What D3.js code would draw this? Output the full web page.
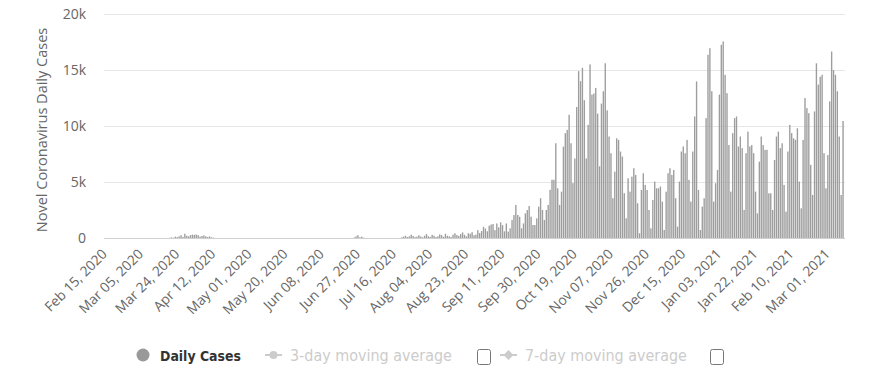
<!DOCTYPE html>
<html><head><meta charset="utf-8">
<script src="https://cdn.jsdelivr.net/npm/d3@7"></script>
<style>body{margin:0;background:#fff}svg{display:block}</style>
</head><body>
<svg id="c" width="870" height="379"></svg>
<script>
// ---- data ----
const startDate = "2020-02-15";
const tickLabels = ["Feb 15, 2020","Mar 05, 2020","Mar 24, 2020","Apr 12, 2020","May 01, 2020","May 20, 2020","Jun 08, 2020","Jun 27, 2020","Jul 16, 2020","Aug 04, 2020","Aug 23, 2020","Sep 11, 2020","Sep 30, 2020","Oct 19, 2020","Nov 07, 2020","Nov 26, 2020","Dec 15, 2020","Jan 03, 2021","Jan 22, 2021","Feb 10, 2021","Mar 01, 2021"];
const yTicks = [0, 5000, 10000, 15000, 20000];
const dailyCases = [
0,0,0,0,0,0,0,0,0,0,0,0,0,0,0,0,0,0,0,0,0,0,0,0,0,0,0,0,0,0,0,0,0,0,
20,50,30,120,80,150,250,100,380,200,150,260,300,280,310,250,120,180,230,150,90,140,60,30,
0,0,0,0,0,0,0,0,0,0,0,0,0,0,0,0,0,0,0,0,0,0,0,0,0,0,0,0,0,0,0,0,0,0,0,0,0,0,0,0,0,0,0,0,0,0,0,0,0,0,0,0,0,0,0,0,0,0,0,0,0,0,0,0,0,0,0,0,0,0,0,0,0,
40,150,250,60,120,30,
0,0,0,0,0,0,0,0,0,0,0,0,0,0,0,0,0,0,0,
60,120,200,90,150,300,180,80,120,250,140,60,200,350,160,100,280,200,90,150,
320,250,110,380,200,150,90,300,420,260,180,350,500,280,150,420,380,520,250,300,
700,450,620,1000,850,600,1100,1200,1250,700,1300,950,1400,1150,600,
1300,570,860,1600,2050,2950,2050,1900,860,1300,2200,2500,2860,1900,1160,1160,1750,2800,3550,2500,1600,2500,2950,4300,5200,5200,8460,4440,2950,4140,8160,9360,9650,11000,8460,4900,
7100,11700,14900,14000,15200,12300,7100,10100,15500,12800,12900,13400,11100,6400,12000,13100,15600,11400,9060,7570,3550,5930,8900,8760,7720,7270,4000,1760,5330,4140,5480,6230,5630,3100,
420,4290,5780,4740,4290,2500,860,3400,5040,4440,4440,4590,3250,715,4140,5780,6230,5630,6080,3550,1010,5040,7720,8170,7570,8760,5190,3250,7720,10850,13980,4290,715,2800,
3550,10700,16360,16950,13100,3250,4890,6080,12800,17250,17550,14570,12930,8300,4140,9360,10700,10850,8170,9060,8020,2500,7570,9500,8170,8300,7570,4140,2200,6820,9060,8300,7870,7870,
3990,3990,2500,6970,9060,9500,8020,8460,4740,2350,7720,10100,9360,8900,8760,9800,5040,2650,8760,12490,11600,11150,6530,3840,11300,15600,13700,14400,14570,7570,4440,7400,12200,16650,15000,14570,13100,9060,3840,10450
];
const legendItems = ["Daily Cases","3-day moving average","7-day moving average"];
const yTitle = "Novel Coronavirus Daily Cases";

// ---- chart ----
const svg = d3.select("#c");
const FONT = "'Open Sans', 'DejaVu Sans', sans-serif";
const NARROW = "'Liberation Sans Narrow', 'DejaVu Sans Condensed', sans-serif";
const pL = 104, pR = 844, pT = 14, pB = 238;
const idx = d3.range(dailyCases.length);
const x = d3.scaleBand().domain(idx).range([pL, pR]).paddingInner(0.28).paddingOuter(0.14);
const y = d3.scaleLinear().domain([0, 20000]).range([pB, pT]);

// gridlines
const yAxis = d3.axisLeft(y).tickValues(yTicks).tickSize(-(pR + 1 - pL)).tickFormat(d => d === 0 ? "0" : (d/1000) + "k");
const gy = svg.append("g").attr("transform", `translate(${pL},0)`).call(yAxis);
gy.select(".domain").remove();
gy.selectAll(".tick line").attr("stroke", "#e6e6e6").attr("stroke-width", 1);
gy.selectAll(".tick text").attr("x", -18).attr("fill", "#666").style("font-family", FONT).style("font-size", "14px");

// bars
svg.append("g").selectAll("rect").data(dailyCases).join("rect")
  .attr("x", (d, i) => x(i)).attr("width", x.bandwidth())
  .attr("y", d => y(d)).attr("height", d => pB - y(d))
  .attr("fill", "#9d9d9d");

// x axis
const tickIdx = tickLabels.map((t, k) => k * 19);
const xAxis = d3.axisBottom(x).tickValues(tickIdx).tickSize(0).tickFormat((d, k) => tickLabels[k]);
const gx = svg.append("g").attr("transform", `translate(0,${pB})`).call(xAxis);
gx.select(".domain").attr("stroke", "#d0d0d0").attr("d", `M${pL},0.5H${pR + 1}`);
gx.selectAll(".tick text")
  .attr("y", 0).attr("dy", 0).attr("x", 0)
  .attr("text-anchor", "end")
  .attr("transform", "translate(3,17) rotate(-45)")
  .attr("fill", "#666").style("font-family", FONT).style("font-size", "13.8px");

// y title
svg.append("text").attr("transform", `translate(47,${(pT + pB) / 2 + 4}) rotate(-90)`)
  .attr("text-anchor", "middle").attr("fill", "#666")
  .style("font-family", FONT).style("font-size", "14.5px").text(yTitle);

// legend
function fit(sel, target) {
  const w = sel.node().getComputedTextLength();
  const fs = parseFloat(sel.style("font-size"));
  sel.style("font-size", (fs * target / w) + "px");
}
const lg = svg.append("g");
const ly = 355;
lg.append("circle").attr("cx", 143).attr("cy", ly).attr("r", 6.5).attr("fill", "#999");
const t1 = lg.append("text").attr("x", 160).attr("y", ly + 6).attr("fill", "#333").style("font-family", NARROW).style("font-weight", "bold").style("font-size", "17px").text(legendItems[0]);
fit(t1, 81);
lg.append("line").attr("x1", 265).attr("x2", 282).attr("y1", ly).attr("y2", ly).attr("stroke", "#ccc").attr("stroke-width", 2);
lg.append("circle").attr("cx", 273.5).attr("cy", ly).attr("r", 4).attr("fill", "#ccc");
const t2 = lg.append("text").attr("x", 290).attr("y", ly + 6).attr("fill", "#ccc").style("font-family", NARROW).style("font-size", "17px").text(legendItems[1]);
fit(t2, 162);
lg.append("rect").attr("x", 477.5).attr("y", 349.5).attr("width", 13).attr("height", 15).attr("rx", 2).attr("fill", "#fff").attr("stroke", "#777");
lg.append("line").attr("x1", 500).attr("x2", 517).attr("y1", ly).attr("y2", ly).attr("stroke", "#ccc").attr("stroke-width", 2);
lg.append("path").attr("d", `M508.5,${ly-5}L513.5,${ly}L508.5,${ly+5}L503.5,${ly}Z`).attr("fill", "#ccc");
const t3 = lg.append("text").attr("x", 525).attr("y", ly + 6).attr("fill", "#ccc").style("font-family", NARROW).style("font-size", "17px").text(legendItems[2]);
fit(t3, 162);
lg.append("rect").attr("x", 710.5).attr("y", 349.5).attr("width", 13).attr("height", 15).attr("rx", 2).attr("fill", "#fff").attr("stroke", "#777");
</script>
</body></html>
